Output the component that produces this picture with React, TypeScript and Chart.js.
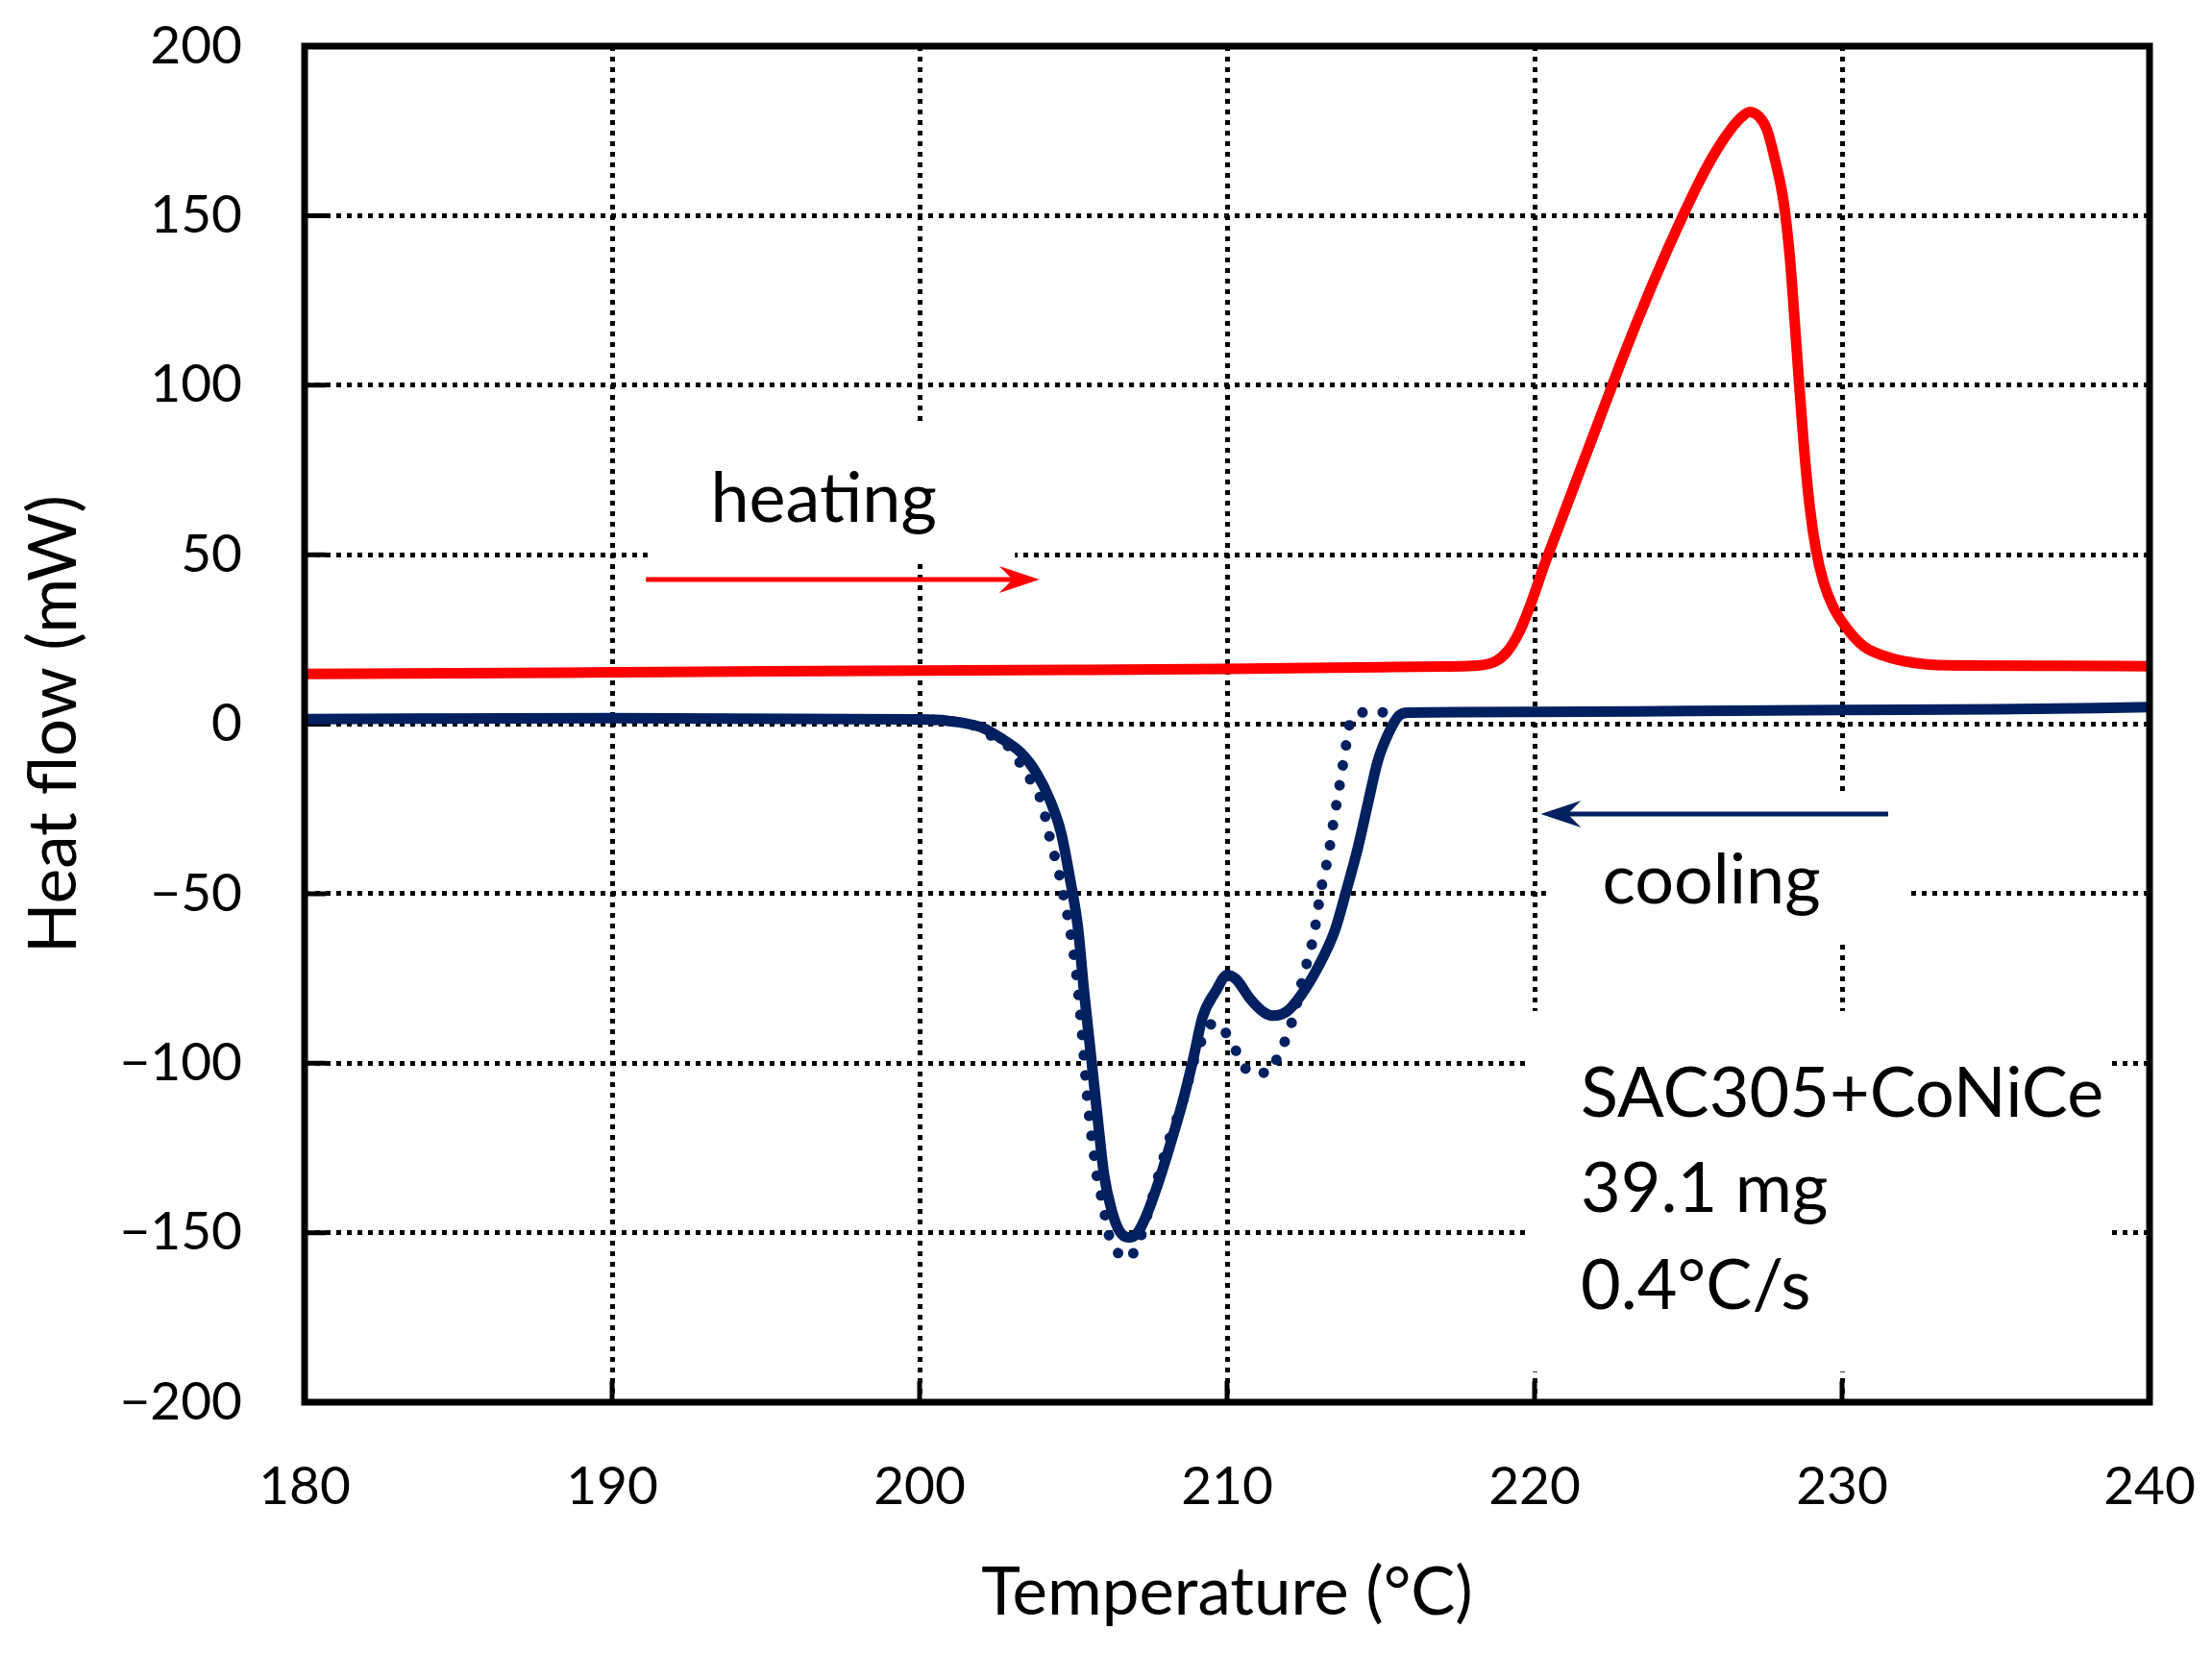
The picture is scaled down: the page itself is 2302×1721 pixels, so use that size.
import { useEffect, useRef } from "react";
import Chart from "chart.js/auto";

// heating run (red)
const heatingTemp = [
  180, 185, 190, 195, 200, 205, 210, 215, 217, 218, 218.7, 219.1, 219.5, 219.9,
  220.3, 220.8, 221.3, 221.8, 222.3, 222.8, 223.3, 223.8, 224.3, 224.8, 225.3,
  225.8, 226.3, 226.7, 227.0, 227.3, 227.55, 227.8, 228.1, 228.3, 228.45, 228.6,
  228.75, 228.95, 229.15, 229.4, 229.7, 230.1, 230.7, 231.6, 232.6, 234, 237, 240,
];
const heatingFlow = [
  14.8, 15.0, 15.3, 15.6, 15.8, 16.0, 16.3, 16.8, 17.0, 17.2, 18.4, 21.3, 27.1, 36,
  46.5, 58.5, 70.5, 82.5, 94.5, 106.5, 118, 129, 139.5, 149.5, 159,
  167.5, 174.5, 178.8, 180.6, 179.2, 175.5, 167.2, 154, 138, 120, 101,
  83, 64, 51.5, 41.8, 34.8, 28.9, 23, 19.5, 17.8, 17.3, 17.2, 17.1,
];

// cooling run, solid curve (navy)
const coolingTemp = [
  180, 190, 199.8, 200.9, 202.0, 202.6, 203.3, 203.8, 204.25, 204.6, 204.9, 205.15,
  205.35, 205.6, 205.8, 206.0, 206.25, 206.5, 206.8, 207.05, 207.35, 207.7, 208.1,
  208.55, 208.9, 209.2, 209.65, 210.0, 210.3, 210.75, 211.2, 211.5, 211.95, 212.4,
  212.95, 213.5, 213.9, 214.25, 214.6, 214.9, 215.25, 215.6, 215.9, 220, 225, 230,
  235, 240,
];
const coolingFlow = [
  1.5, 1.8, 1.4, 1.0, -0.9, -3.9, -8.5, -14.4, -22.6, -32, -46, -60,
  -79, -100, -117, -133, -143.5, -149.5, -151.4, -150.5, -145.5, -137, -125.6,
  -111.6, -98.7, -86.5, -78.5, -74, -75.3, -81, -85, -86, -84.7, -80,
  -71.8, -61, -48.4, -36.6, -22.6, -10.9, -2.7, 2.6, 3.4, 3.6, 3.9, 4.2,
  4.4, 5.0,
];

// cooling run, dotted curve (navy)
const coolingDotTemp = [
  199.8, 201.0, 202.0, 202.4, 203.05, 203.33, 203.7, 204.0, 204.15, 204.3, 204.5,
  204.65, 204.8, 204.95, 205.1, 205.25, 205.36, 205.45, 205.53, 205.7, 205.8,
  205.97, 206.08, 206.3, 206.74, 207.12, 207.4, 207.9, 208.1, 208.55, 208.99,
  209.6, 210.03, 210.36, 210.75, 211.35, 211.68, 211.96, 212.18, 212.5, 212.73,
  212.9, 213.05, 213.2, 213.33, 213.44, 213.55, 213.66, 213.77, 213.88, 213.99,
  214.2, 214.54, 215.2,
];
const coolingDotFlow = [
  1.4, 0.9, -1.2, -3.9, -8, -12.6, -17.9, -23.8, -30, -36, -42.5,
  -49, -56, -64, -74, -88, -100, -110, -117, -129, -135.6,
  -141.4, -148, -153.7, -157.8, -153, -145, -129, -123, -111.6, -97.5,
  -88, -92, -97.5, -102.8, -102.8, -97.5, -91.7, -85.6, -73.5, -66,
  -58, -49, -42.9, -36.7, -30, -24, -18, -11.8, -5.6, 0.2,
  2.8, 3.5, 3.5,
];

const xTicks = { min: 180, max: 240, step: 10 };
const yTicks = { min: -200, max: 200, step: 50 };

// annotations, in data units
const heatingArrow = { x0: 191.1, x1: 203.9, y: 42.7 };
const coolingArrow = { x0: 231.5, x1: 220.2, y: -26.5 };
const notes = [
  { text: "heating", x: 193.2, y: 59.7 },
  { text: "cooling", x: 222.2, y: -52.9 },
  { text: "SAC305+CoNiCe", x: 221.5, y: -115.8 },
  { text: "39.1 mg", x: 221.5, y: -143.9 },
  { text: "0.4°C/s", x: 221.5, y: -172.5 },
];
// white boxes behind the texts (grid is hidden there)
const noteBoxes = [
  { x0: 191.3, x1: 203.1, y0: 89.4, y1: 47.8 },
  { x0: 220.4, x1: 232.1, y0: -21.1, y1: -64.2 },
  { x0: 219.8, x1: 238.7, y0: -84.6, y1: -191.0 },
];

const RED = "#ff0000";
const NAVY = "#002060";
const FONT = "Lato";

const toPoints = (xs: number[], ys: number[]) => xs.map((x, i) => ({ x, y: ys[i] }));

function drawArrow(ctx: CanvasRenderingContext2D, x0: number, x1: number, y: number, color: string) {
  const dir = x1 > x0 ? 1 : -1;
  ctx.save();
  ctx.strokeStyle = color;
  ctx.fillStyle = color;
  ctx.lineWidth = 5;
  ctx.beginPath();
  ctx.moveTo(x0, y);
  ctx.lineTo(x1 - dir * 20, y);
  ctx.stroke();
  ctx.beginPath();
  ctx.moveTo(x1, y);
  ctx.lineTo(x1 - dir * 42, y - 14);
  ctx.lineTo(x1 - dir * 28, y);
  ctx.lineTo(x1 - dir * 42, y + 14);
  ctx.closePath();
  ctx.fill();
  ctx.restore();
}

const decor = {
  id: "decor",
  beforeDatasetsDraw(chart: any) {
    const { ctx, chartArea, scales } = chart;
    const { x, y } = scales;
    ctx.save();
    ctx.fillStyle = "#fff";
    noteBoxes.forEach((b) => {
      const px0 = x.getPixelForValue(b.x0);
      const px1 = x.getPixelForValue(b.x1);
      const py0 = y.getPixelForValue(b.y0);
      const py1 = y.getPixelForValue(b.y1);
      ctx.fillRect(px0, py0, px1 - px0, py1 - py0);
    });
    // short inward tick marks on the left and bottom axes
    ctx.strokeStyle = "#000";
    ctx.lineWidth = 5;
    ctx.beginPath();
    y.ticks.forEach((t: any) => {
      if (t.value <= yTicks.min || t.value >= yTicks.max) return;
      const py = y.getPixelForValue(t.value);
      ctx.moveTo(chartArea.left, py);
      ctx.lineTo(chartArea.left + 22, py);
    });
    x.ticks.forEach((t: any) => {
      if (t.value <= xTicks.min || t.value >= xTicks.max) return;
      const px = x.getPixelForValue(t.value);
      ctx.moveTo(px, chartArea.bottom);
      ctx.lineTo(px, chartArea.bottom - 22);
    });
    ctx.stroke();
    ctx.restore();
  },
  afterDatasetsDraw(chart: any) {
    const { ctx, chartArea, scales } = chart;
    const { x, y } = scales;
    ctx.save();
    ctx.strokeStyle = "#000";
    ctx.lineWidth = 7;
    ctx.strokeRect(
      chartArea.left,
      chartArea.top,
      chartArea.right - chartArea.left,
      chartArea.bottom - chartArea.top
    );

    drawArrow(
      ctx,
      x.getPixelForValue(heatingArrow.x0),
      x.getPixelForValue(heatingArrow.x1),
      y.getPixelForValue(heatingArrow.y),
      RED
    );
    drawArrow(
      ctx,
      x.getPixelForValue(coolingArrow.x0),
      x.getPixelForValue(coolingArrow.x1),
      y.getPixelForValue(coolingArrow.y),
      NAVY
    );

    ctx.fillStyle = "#000";
    ctx.font = `72px ${FONT}`;
    ctx.textAlign = "left";
    ctx.textBaseline = "alphabetic";
    notes.forEach((n) => {
      ctx.fillText(n.text, x.getPixelForValue(n.x), y.getPixelForValue(n.y));
    });
    ctx.restore();
  },
};

export default function App() {
  const canvasRef = useRef<HTMLCanvasElement>(null);
  const chartRef = useRef<Chart | null>(null);

  useEffect(() => {
    document.body.style.margin = "0";
    document.body.style.overflow = "hidden";
    if (!canvasRef.current || chartRef.current) return;

    chartRef.current = new Chart(canvasRef.current, {
      type: "line",
      data: {
        datasets: [
          {
            label: "heating",
            data: toPoints(heatingTemp, heatingFlow),
            borderColor: RED,
            borderWidth: 11,
            pointRadius: 0,
            cubicInterpolationMode: "monotone",
          },
          {
            label: "cooling",
            data: toPoints(coolingTemp, coolingFlow),
            borderColor: NAVY,
            borderWidth: 11,
            pointRadius: 0,
            cubicInterpolationMode: "monotone",
          },
          {
            label: "cooling (dotted)",
            data: toPoints(coolingDotTemp, coolingDotFlow),
            borderColor: NAVY,
            borderWidth: 11,
            borderDash: [0.01, 21],
            borderCapStyle: "round",
            pointRadius: 0,
            cubicInterpolationMode: "monotone",
          },
        ],
      },
      options: {
        animation: false,
        responsive: true,
        maintainAspectRatio: false,
        layout: { padding: { top: 48, right: 65, left: 0, bottom: 0 } },
        plugins: {
          legend: { display: false },
          tooltip: { enabled: false },
        },
        scales: {
          x: {
            type: "linear",
            min: xTicks.min,
            max: xTicks.max,
            ticks: {
              stepSize: xTicks.step,
              color: "#000",
              padding: 55,
              maxRotation: 0,
              font: { family: FONT, size: 55 },
            },
            grid: { color: "#000", lineWidth: 5, drawTicks: false },
            border: { display: false, dash: [5, 6] },
            title: {
              display: true,
              text: "Temperature (°C)",
              color: "#000",
              font: { family: FONT, size: 69 },
              padding: { top: 0, bottom: 22 },
            },
            afterFit: (s: any) => {
              s.height = 262;
              s.paddingLeft = 0;
              s.paddingRight = 0;
            },
          },
          y: {
            min: yTicks.min,
            max: yTicks.max,
            ticks: {
              stepSize: yTicks.step,
              color: "#000",
              padding: 65,
              font: { family: FONT, size: 55 },
              callback: (v: any) => (v < 0 ? `\u2212${Math.abs(v)}` : `${v}`),
            },
            grid: { color: "#000", lineWidth: 5, drawTicks: false },
            border: { display: false, dash: [5, 6] },
            title: {
              display: true,
              text: "Heat flow (mW)",
              color: "#000",
              font: { family: FONT, size: 69 },
              padding: { top: 15, bottom: 0 },
            },
            afterFit: (s: any) => {
              s.width = 317;
              s.paddingTop = 0;
              s.paddingBottom = 0;
            },
          },
        },
      },
      plugins: [decor],
    });

    return () => {
      if (chartRef.current) {
        chartRef.current.destroy();
        chartRef.current = null;
      }
    };
  }, []);

  return (
    <div style={{ width: "2302px", height: "1721px", position: "relative" }}>
      <canvas ref={canvasRef} />
    </div>
  );
}
